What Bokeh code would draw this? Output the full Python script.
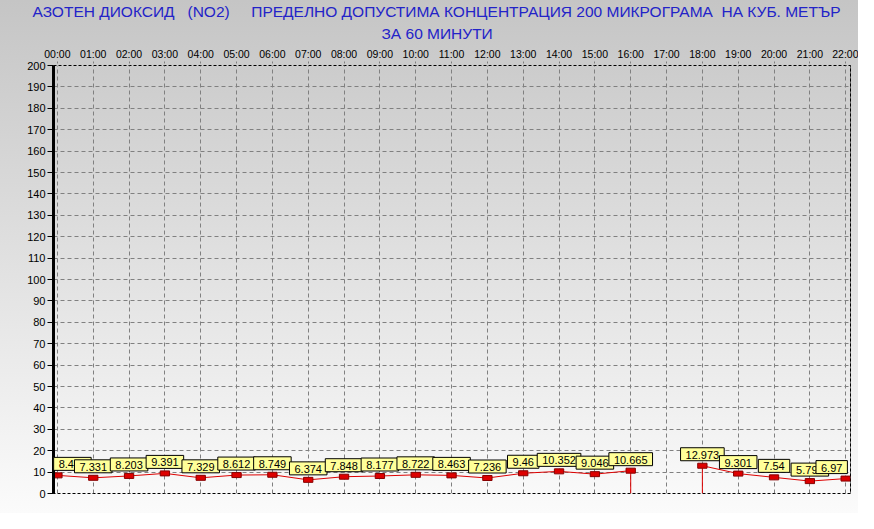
from bokeh.plotting import figure
from bokeh.models import ColumnDataSource, Label, FixedTicker, Range1d, Span, Title
from bokeh.embed import file_html
from bokeh.resources import INLINE

# ---- data ----
hours = list(range(23))
hour_labels = [f"{h:02d}:00" for h in hours]
no2_values = [8.475, 7.331, 8.203, 9.391, 7.329, 8.612, 8.749, 6.374, 7.848, 8.177,
              8.722, 8.463, 7.236, 9.46, 10.352, 9.046, 10.665, None, 12.973, 9.301,
              7.54, 5.791, 6.97]
value_texts = ["8.475", "7.331", "8.203", "9.391", "7.329", "8.612", "8.749", "6.374",
               "7.848", "8.177", "8.722", "8.463", "7.236", "9.46", "10.352", "9.046",
               "10.665", "", "12.973", "9.301", "7.54", "5.791", "6.97"]
y_ticks = list(range(0, 201, 10))
title_line1 = ("АЗОТЕН ДИОКСИД\u00a0\u00a0 (NO2)\u00a0\u00a0\u00a0\u00a0 ПРЕДЕЛНО ДОПУСТИМА "
               "КОНЦЕНТРАЦИЯ 200 МИКРОГРАМА\u00a0 НА КУБ. МЕТЪР")
title_line2 = "ЗА 60 МИНУТИ"

FONT = "Liberation Sans"
RED = "#dd0000"
BLUE = "#2323c8"

p = figure(width=858, height=513, output_backend="svg", toolbar_location=None,
           x_range=Range1d(-0.109, 22.134), y_range=Range1d(0, 200),
           x_axis_location="above",
           min_border_left=53, min_border_right=8, min_border_top=64, min_border_bottom=20)
p.border_fill_color = None
p.background_fill_color = None
p.styles = {"background": "linear-gradient(to bottom, #c5c5c5, #fbfbfb)"}

p.outline_line_color = "black"
p.outline_line_dash = "3 2"
p.outline_line_width = 1

# title (two lines)
p.title.text = title_line1
p.title.align = "left"
p.title.offset = -21
p.title.standoff = 0
p.title.text_font = FONT
p.title.text_font_size = "15.5px"
p.title.text_font_style = "normal"
p.title.text_color = BLUE
p.add_layout(Title(text=title_line2, align="left", offset=328, standoff=6, text_font=FONT,
                   text_font_size="15.5px", text_font_style="normal", text_color=BLUE), "above")

# x axis (top)
p.xaxis.ticker = FixedTicker(ticks=hours)
p.xaxis.major_label_overrides = {h: lbl for h, lbl in zip(hours, hour_labels)}
p.xaxis.axis_line_color = None
p.xaxis.major_tick_out = 4
p.xaxis.major_tick_in = 0
p.xaxis.major_tick_line_color = "#808080"
p.xaxis.major_tick_line_dash = "2 2"
p.xaxis.minor_tick_line_color = None
p.xaxis.major_label_standoff = 2
p.xaxis.major_label_text_font = FONT
p.xaxis.major_label_text_font_size = "10.5px"
p.xaxis.major_label_text_color = "black"

# y axis
p.yaxis.ticker = FixedTicker(ticks=y_ticks)
p.yaxis.axis_line_width = 3
p.yaxis.axis_line_color = "black"
p.yaxis.major_tick_out = 6
p.yaxis.major_tick_in = 0
p.yaxis.major_tick_line_color = "black"
p.yaxis.minor_tick_line_color = None
p.yaxis.major_label_standoff = 2
p.yaxis.major_label_text_font = FONT
p.yaxis.major_label_text_font_size = "11px"
p.yaxis.major_label_text_color = "black"

# grids
for g in (p.xgrid, p.ygrid):
    g.grid_line_color = "#808080"
    g.grid_line_dash = "4 3"
    g.grid_line_width = 1
p.xgrid.ticker = FixedTicker(ticks=hours)
p.ygrid.ticker = FixedTicker(ticks=y_ticks)

# right frame edge solid
p.add_layout(Span(location=p.x_range.end, dimension="height", line_color="black", line_width=1))

# data line (broken at the missing hour)
ys = [float("nan") if v is None else v for v in no2_values]
p.line(hours, ys, line_color=RED, line_width=1)

# drop lines at the edges of the gap
gx, gy = [], []
for i, v in enumerate(no2_values):
    if v is None:
        continue
    prev_missing = i > 0 and no2_values[i - 1] is None
    next_missing = i < len(no2_values) - 1 and no2_values[i + 1] is None
    if prev_missing or next_missing:
        gx.append(hours[i]); gy.append(v)
p.segment(x0=gx, y0=[0] * len(gx), x1=gx, y1=gy, line_color=RED, line_width=1)

px = [h for h, v in zip(hours, no2_values) if v is not None]
py = [v for v in no2_values if v is not None]
pt = [t for t, v in zip(value_texts, no2_values) if v is not None]
src = ColumnDataSource(dict(x=px, y=py, t=pt))
p.rect(x="x", y="y", width=0.26, height=5, height_units="screen", source=src,
       fill_color=RED, line_color="#880000", line_width=1)

n = len(px)
for i, (x, y, t) in enumerate(zip(px, py, pt)):
    xo = 0
    if i == 0:
        xo = 15      # keep the box inside the frame
    elif i == n - 1:
        xo = -14
    p.add_layout(Label(x=x, y=y, text=t, text_align="center", text_baseline="bottom",
                       x_offset=xo, y_offset=5, text_font=FONT, text_font_size="11px",
                       text_color="black",
                       background_fill_color="#ffff99", border_line_color="black",
                       border_line_width=1,
                       padding=dict(left=5, right=5, top=3, bottom=2)))

open("out.html", "w").write(file_html(p, INLINE))
